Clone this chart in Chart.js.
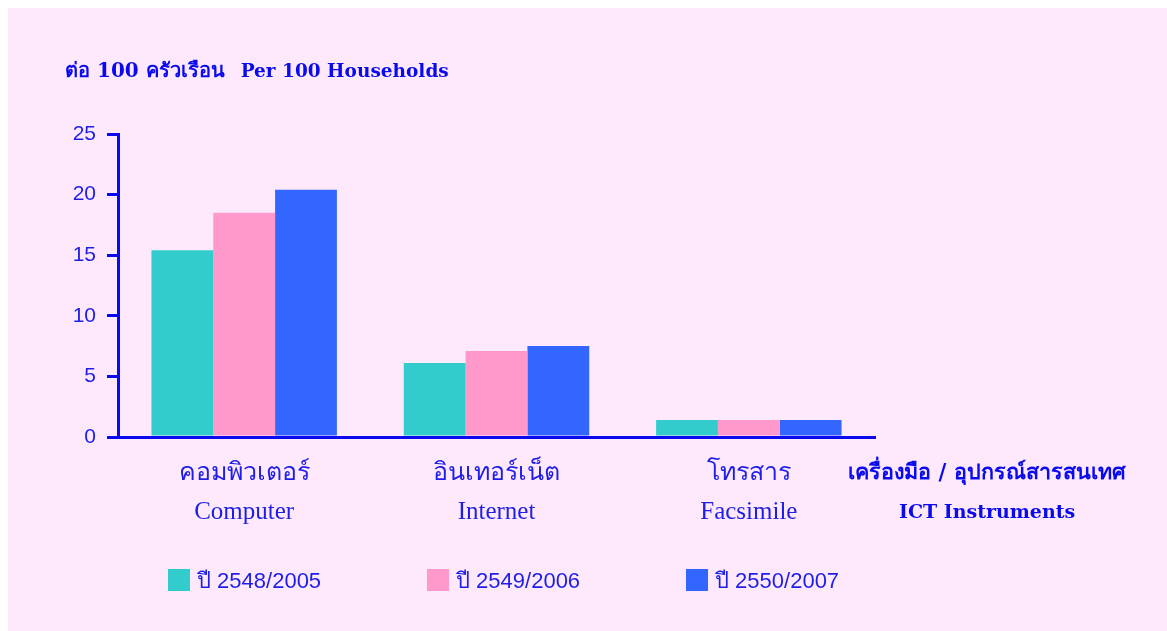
<!DOCTYPE html>
<html>
<head>
<meta charset="utf-8">
<script src="https://cdn.jsdelivr.net/npm/chart.js@4.4.0/dist/chart.umd.min.js"></script>
<style>
    html, body { margin: 0; padding: 0; background: #ffffff; }
    #wrap { position: absolute; left: 8px; top: 8px; width: 1159px; height: 623px; background: #fee9fc; }
    #c { position: absolute; left: 0; top: 0; }
    .txt { position: absolute; color: #0a0af0; white-space: nowrap; }
    #title { left: 65px; top: 54px; font: bold 18.5px 'DejaVu Serif', serif; }
    #title .th { font-size: 20px; margin-right: 16px; }
    #xtitle1 { left: 848px; top: 454px; font: bold 21.5px 'DejaVu Serif', serif; }
    #xtitle2 { left: 899px; top: 500px; font: bold 19px 'DejaVu Serif', serif; }
    #legend { position: absolute; left: 168px; top: 563px; }
    .item { position: absolute; top: 0; white-space: nowrap; font: 22px 'Liberation Sans Narrow', 'Liberation Sans', sans-serif; color: #1e1ee8; }
    .box { display: inline-block; width: 22px; height: 22px; vertical-align: -3px; margin-right: 7px; }
</style>
</head>
<body>
<div id="wrap"></div>
<canvas id="c" width="1167" height="631"></canvas>
<div class="txt" id="title"><span class="th">ต่อ 100 ครัวเรือน</span>Per 100 Households</div>
<div class="txt" id="xtitle1">เครื่องมือ / อุปกรณ์สารสนเทศ</div>
<div class="txt" id="xtitle2">ICT Instruments</div>
<div id="legend"></div>
<script>
// data (per 100 households)
var categoriesThai = ['คอมพิวเตอร์', 'อินเทอร์เน็ต', 'โทรสาร'];
var categoriesEng = ['Computer', 'Internet', 'Facsimile'];
var seriesNames = ['ปี 2548/2005', 'ปี 2549/2006', 'ปี 2550/2007'];
var year2005 = [15.4, 6.1, 1.4];
var year2006 = [18.5, 7.1, 1.4];
var year2007 = [20.4, 7.5, 1.4];
var yTicks = [0, 5, 10, 15, 20, 25];

var colors = ['#33cccc', '#ff99cc', '#3366ff'];
var axisBlue = '#0a0aee';
var textBlue = '#1e1ee8';

var labels = categoriesThai.map((t, i) => [t, categoriesEng[i]]);
var values = [year2005, year2006, year2007];

var datasets = values.map((v, i) => ({
    label: seriesNames[i],
    data: v,
    backgroundColor: colors[i],
    borderWidth: 0,
    barPercentage: 1.0,
    categoryPercentage: 0.735
}));

var ctx = document.getElementById('c').getContext('2d');
new Chart(ctx, {
    type: 'bar',
    data: {
        labels: labels,
        datasets: datasets
    },
    options: {
        responsive: false,
        animation: false,
        layout: {
            padding: { left: 0, top: 134, right: 292, bottom: 94 }
        },
        plugins: {
            legend: { display: false },
            tooltip: { enabled: false }
        },
        scales: {
            x: {
                grid: { display: false, drawTicks: false },
                border: { color: axisBlue, width: 3 },
                ticks: {
                    color: textBlue,
                    padding: 17,
                    maxRotation: 0,
                    font: { family: "'Liberation Serif', serif", size: 25, lineHeight: 1.56 }
                },
                afterFit: function (scale) { scale.height = 100; }
            },
            y: {
                min: 0,
                max: 25,
                afterBuildTicks: function (scale) {
                    scale.ticks = yTicks.map(v => ({ value: v }));
                },
                grid: {
                    drawOnChartArea: false,
                    color: axisBlue,
                    lineWidth: 3,
                    tickLength: 11
                },
                border: { color: axisBlue, width: 3 },
                ticks: {
                    color: textBlue,
                    padding: 11,
                    font: { family: "'Liberation Sans Narrow', 'Liberation Sans', sans-serif", size: 21 }
                },
                afterFit: function (scale) { scale.width = 118; }
            }
        }
    }
});

// legend built from the series names and colours
var legend = document.getElementById('legend');
seriesNames.forEach((name, i) => {
    var item = document.createElement('div');
    item.className = 'item';
    item.style.left = (i * 259) + 'px';
    item.innerHTML = '<span class="box" style="background:' + colors[i] + '"></span>' + name;
    legend.appendChild(item);
});
</script>
</body>
</html>
